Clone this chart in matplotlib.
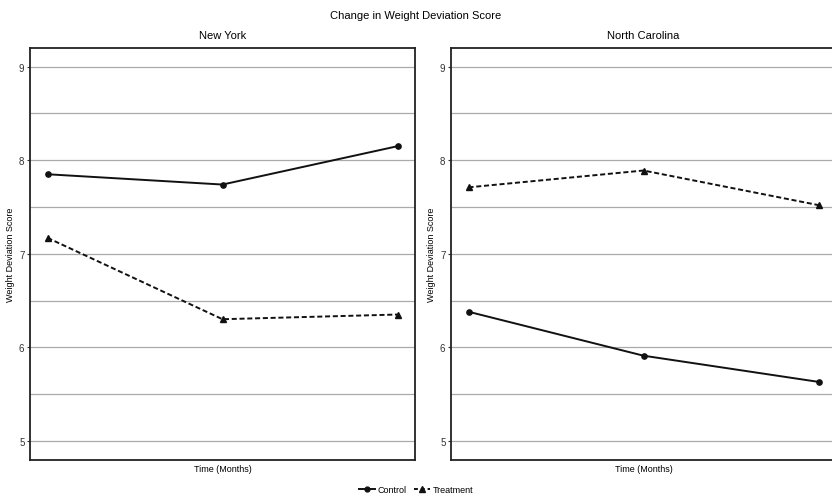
import numpy             as np
import matplotlib
matplotlib.use('Agg')
import matplotlib.pyplot as plt
from matplotlib.lines import Line2D


plt.rcParams['font.family'] = ['Liberation Sans', 'DejaVu Sans']

time = [1, 2, 3]

ny_control   = [7.85, 7.74, 8.15]
ny_treatment = [7.17, 6.30, 6.35]

nc_control   = [6.38, 5.91, 5.63]
nc_treatment = [7.71, 7.89, 7.52]

panels = ['New York', 'North Carolina']
series = [(ny_control, ny_treatment), (nc_control, nc_treatment)]

yticks = [5, 6, 7, 8, 9]


fig = plt.figure(figsize = (8.32, 5.02), dpi = 100)

fig.text(0.5, 0.968, 'Change in Weight Deviation Score', ha = 'center', va = 'center', fontsize = 8)

lefts = [30 / 832, 451 / 832]
width = 385 / 832

for left, name, (ctl, trt) in zip(lefts, panels, series):

    ax = fig.add_axes([left, 1 - 460.5 / 502, width, 411.5 / 502])

    ax.plot(time, ctl, color = '#111111', lw = 1.4, marker = 'o', ms = 3.8)
    ax.plot(time, trt, color = '#111111', lw = 1.4, ls = (0, (2.6, 1.4)), marker = '^', ms = 4.3)

    ax.set_xticks([])
    ax.set_yticks(yticks)
    ax.set_yticks(np.arange(5.5, 9, 1.0), minor = True)
    ax.tick_params(axis = 'y', which = 'major', length = 2.5, width = 0.8, labelsize = 7, colors = '#333333', pad = 1.5)
    ax.tick_params(axis = 'y', which = 'minor', length = 0)

    ax.set_xlim(0.9, 3.1)
    ax.set_ylim(4.8, 9.2)

    ax.grid(axis = 'y', which = 'both', color = '#AAAAAA', lw = 0.9)
    ax.set_axisbelow(True)

    for s in ax.spines.values():
        s.set_linewidth(1.3)
        s.set_color('#222222')

    ax.set_title(name, fontsize = 8, pad = 7)
    ax.set_xlabel('Time (Months)', fontsize = 6.5, labelpad = 3)
    ax.set_ylabel('Weight Deviation Score', fontsize = 6.5, labelpad = 3)


handles = [Line2D([], [], color = '#111111', lw = 1.4, marker = 'o', ms = 3.5),
           Line2D([], [], color = '#111111', lw = 1.4, ls = (0, (2, 1.5)), marker = '^', ms = 4)]

fig.legend(handles, ['Control', 'Treatment'], loc = 'center', bbox_to_anchor = (0.5, 0.022),
           ncol = 2, frameon = False, fontsize = 6.5, handlelength = 1.8, handletextpad = 0.3,
           columnspacing = 0.8)

fig.savefig('out.png', dpi = 100)
